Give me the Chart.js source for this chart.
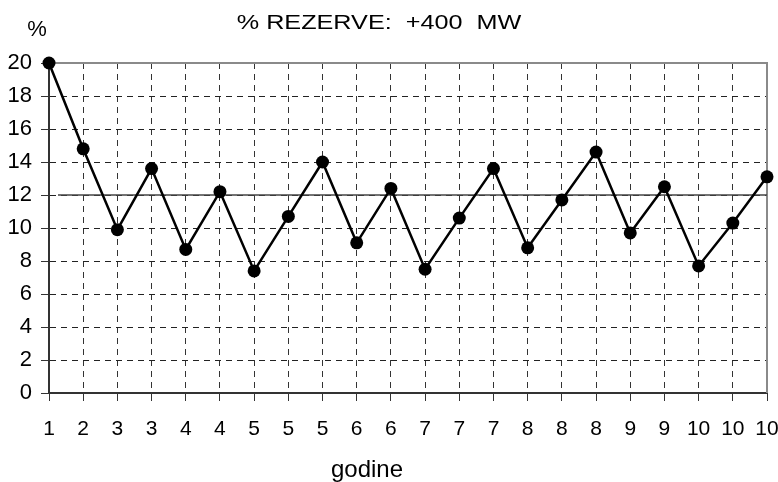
<!DOCTYPE html>
<html>
<head>
<meta charset="utf-8">
<script src="https://cdn.jsdelivr.net/npm/chart.js@4"></script>
<style>
  body { margin: 0; background: #fff; }
  canvas { display: block; }
</style>
</head>
<body>
<canvas id="grafikRezerve" width="778" height="482"></canvas>
<script>
const godine = ['1', '2', '3', '3', '4', '4', '5', '5', '5', '6', '6', '7', '7', '7', '8', '8', '8', '9', '9', '10', '10', '10'];
const rezerva = [20, 14.8, 9.9, 13.6, 8.7, 12.2, 7.4, 10.7, 14.0, 9.1, 12.4, 7.5, 10.6, 13.6, 8.8, 11.7, 14.6, 9.7, 12.5, 7.7, 10.3, 13.1];
const yMin = 0;
const yMax = 20;
const yKorak = 2;
const granica = 12;

const naslov = '% REZERVE:  +400  MW';
const oznakaY = '%';
const oznakaX = 'godine';
const FONT = '"Liberation Sans", Arial, Helvetica, sans-serif';

// okvir, referentna linija i tekstovi
const dodatci = {
    id: 'dodatci',
    beforeDatasetsDraw(chart) {
        const { ctx, chartArea: a, scales } = chart;
        ctx.save();
        // siva linija gore i desno
        ctx.strokeStyle = '#8a8a8a';
        ctx.lineWidth = 2;
        ctx.beginPath();
        ctx.moveTo(a.left, a.top);
        ctx.lineTo(a.right, a.top);
        ctx.lineTo(a.right, a.bottom);
        ctx.stroke();
        // puna linija na 12 %
        const yg = scales.y.getPixelForValue(granica);
        ctx.strokeStyle = '#444';
        ctx.lineWidth = 1.5;
        ctx.beginPath();
        ctx.moveTo(a.left + 9, yg);
        ctx.lineTo(a.right, yg);
        ctx.stroke();
        ctx.restore();
    },
    afterDraw(chart) {
        const { ctx } = chart;
        ctx.save();
        ctx.fillStyle = '#000';
        ctx.textAlign = 'center';
        ctx.textBaseline = 'alphabetic';

        ctx.font = '21px ' + FONT;
        ctx.save();
        ctx.translate(379, 29);
        ctx.scale(1.2, 1);
        ctx.fillText(naslov, 0, 0);
        ctx.restore();

        ctx.font = '22px ' + FONT;
        ctx.fillText(oznakaY, 37, 36);

        ctx.font = '24px ' + FONT;
        ctx.fillText(oznakaX, 367, 477);
        ctx.restore();
    }
};

const ctx = document.getElementById('grafikRezerve').getContext('2d');

new Chart(ctx, {
    type: 'line',
    data: {
        labels: godine,
        datasets: [{
            data: rezerva,
            borderColor: '#000',
            backgroundColor: '#000',
            borderWidth: 2.5,
            pointRadius: 6.5,
            pointHoverRadius: 6.5,
            pointBackgroundColor: '#000',
            pointBorderWidth: 0,
            tension: 0,
            fill: false,
            clip: false
        }]
    },
    options: {
        responsive: false,
        animation: false,
        events: [],
        layout: {
            padding: { top: 63, left: 0, right: 11, bottom: 0 }
        },
        plugins: {
            legend: { display: false },
            title: { display: false },
            tooltip: { enabled: false }
        },
        scales: {
            x: {
                offset: false,
                afterFit(scale) {
                    scale.height = 89;
                    scale.paddingLeft = 0;
                    scale.paddingRight = 0;
                },
                grid: {
                    color: '#333',
                    lineWidth: 1,
                    tickLength: 8,
                    tickColor: '#333',
                    tickBorderDash: [1, 0]
                },
                border: {
                    display: true,
                    color: '#333',
                    width: 2,
                    dash: [6, 5]
                },
                ticks: {
                    autoSkip: false,
                    maxRotation: 0,
                    minRotation: 0,
                    padding: 16,
                    color: '#000',
                    font: { family: FONT, size: 21 }
                }
            },
            y: {
                min: yMin,
                max: yMax,
                afterFit(scale) {
                    scale.width = 49;
                    scale.paddingTop = 0;
                    scale.paddingBottom = 0;
                },
                grid: {
                    color: '#222',
                    lineWidth: 1,
                    tickLength: 8,
                    tickColor: '#333',
                    tickBorderDash: [1, 0]
                },
                border: {
                    display: true,
                    color: '#333',
                    width: 2,
                    dash: [6, 5]
                },
                ticks: {
                    stepSize: yKorak,
                    padding: 9,
                    color: '#000',
                    font: { family: FONT, size: 22 }
                }
            }
        }
    },
    plugins: [dodatci]
});
</script>
</body>
</html>
